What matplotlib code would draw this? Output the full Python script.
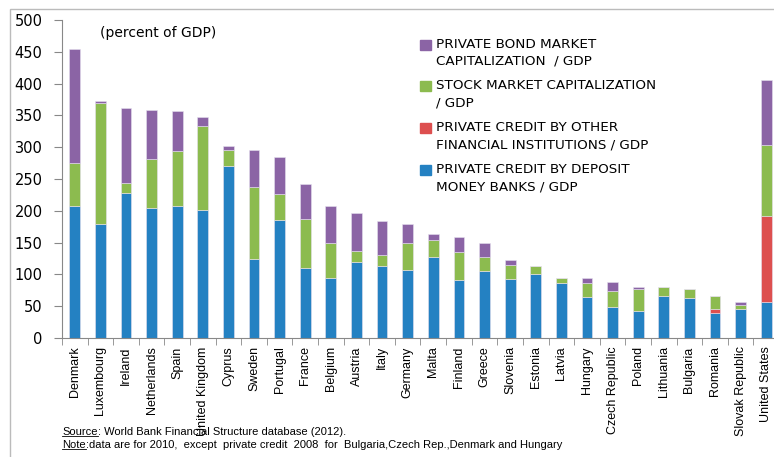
import matplotlib
matplotlib.use("Agg")
from matplotlib import pyplot as plt
from matplotlib.patches import Rectangle
from matplotlib.lines import Line2D
import numpy as np

countries = ["Denmark", "Luxembourg", "Ireland", "Netherlands", "Spain", "United Kingdom",
             "Cyprus", "Sweden", "Portugal", "France", "Belgium", "Austria", "Italy",
             "Germany", "Malta", "Finland", "Greece", "Slovenia", "Estonia", "Latvia",
             "Hungary", "Czech Republic", "Poland", "Lithuania", "Bulgaria", "Romania",
             "Slovak Republic", "United States"]

# percent of GDP, stacked bottom to top
deposit_banks = [208, 179, 228, 205, 208, 202, 271, 124, 186, 110.6, 95, 120, 113.7,
                 107.4, 127, 91.7, 105.8, 93, 100, 87, 65, 49, 43, 66.5, 63.4, 38.8, 46, 56.6]
other_inst = [0, 0, 0, 0, 0, 0, 0, 0, 0, 0, 0, 0, 0,
              0, 0, 0, 0, 0, 0, 0, 0, 0, 0, 0, 0, 6.8, 0, 135.4]
stock_mkt = [66.7, 190.5, 15, 77, 86.5, 131, 24.6, 113, 40, 76, 54, 17, 16.3,
             41.6, 27, 43, 21.2, 22, 13, 7, 21, 25, 34.5, 13.5, 14.1, 19.9, 6, 112]
bond_mkt = [179, 3, 118, 77, 62.5, 15, 6.4, 58.6, 59, 55.4, 58.5, 59, 54,
            30, 9.5, 24.3, 23, 7.6, 0, 0, 8, 13.6, 2.5, 0, 0, 0, 5, 102]

series = [
    (deposit_banks, "#2481C2", "PRIVATE CREDIT BY DEPOSIT\nMONEY BANKS / GDP"),
    (other_inst, "#DD4F4F", "PRIVATE CREDIT BY OTHER\nFINANCIAL INSTITUTIONS / GDP"),
    (stock_mkt, "#8CBB4F", "STOCK MARKET CAPITALIZATION\n/ GDP"),
    (bond_mkt, "#8B64A5", "PRIVATE BOND MARKET\nCAPITALIZATION  / GDP"),
]

fig = plt.figure(figsize=(7.74, 4.57), dpi=100)
ax = fig.add_axes([62 / 774, 1 - 338 / 457, 717 / 774, 318 / 457])

x = np.arange(len(countries))
bottom = np.zeros(len(countries))
for vals, clr, lab in series:
    vals = np.array(vals, dtype=float)
    ax.bar(x, vals, width=0.42, bottom=bottom, color=clr, edgecolor="#e6e0ee", linewidth=0.4)
    bottom += vals

ax.set_xlim(-0.5, len(countries) - 0.5)
ax.set_ylim(0, 500)
ax.set_yticks(np.arange(0, 501, 50))
ax.tick_params(axis="y", labelsize=10.5, length=6, color="#888888", pad=8)
ax.set_xticks(x)
ax.set_xticklabels(countries, rotation=90, fontsize=9, family="Liberation Sans")
ax.tick_params(axis="x", length=0, pad=6)
ax.set_xticks(np.arange(-0.5, len(countries), 1.0), minor=True)
ax.tick_params(axis="x", which="minor", length=5, color="#888888")
for s in ["top", "right"]:
    ax.spines[s].set_visible(False)
for s in ["left", "bottom"]:
    ax.spines[s].set_color("#888888")

ax.text(100 / 774, 1 - 33 / 457, "(percent of GDP)", transform=fig.transFigure,
        fontsize=10, va="center", ha="left")

# legend drawn Excel-style, marker next to first line
ys = [45, 86, 128, 170]
for (vals, clr, lab), yy in zip(series[::-1], ys):
    fig.patches.append(Rectangle((420 / 774, 1 - (yy + 5) / 457), 11 / 774, 10 / 457,
                                 transform=fig.transFigure, color=clr))
    fig.text(436 / 774, 1 - (yy - 7) / 457, lab, fontsize=9.7, va="top", ha="left",
             linespacing=1.4)

# source / note with underlined lead words
fig.text(62 / 774, 1 - 432 / 457, "Source", fontsize=8, family="Liberation Sans", va="center")
fig.text(62 / 774, 1 - 445 / 457, "Note", fontsize=8, family="Liberation Sans", va="center")
fig.canvas.draw()
r = fig.canvas.get_renderer()
t1 = fig.texts[-2]
t2 = fig.texts[-1]
for t, rest in [(t1, ": World Bank Financial Structure database (2012)."),
                (t2, ":data are for 2010,  except  private credit  2008  for  Bulgaria,Czech Rep.,Denmark and Hungary")]:
    bb = t.get_window_extent(r)
    x0, x1 = bb.x0 / 774, bb.x1 / 774
    yl = (bb.y0 + 1) / 457
    fig.lines.append(Line2D([x0, x1], [yl, yl], transform=fig.transFigure, color="black", linewidth=0.6))
    fig.text(x1, t.get_position()[1], rest, fontsize=8, family="Liberation Sans", va="center")

# chart frame
fig.patches.append(Rectangle((10 / 774, -0.01), 1.0, 1 - 9 / 457 + 0.01, transform=fig.transFigure,
                             fill=False, edgecolor="#bbbbbb", linewidth=1))

fig.savefig("out.png", dpi=100)
